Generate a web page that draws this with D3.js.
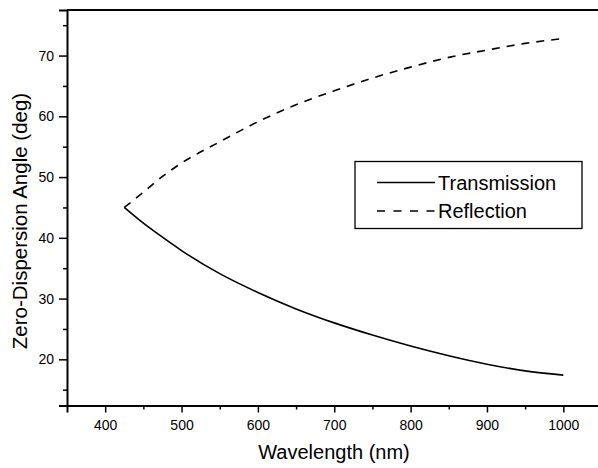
<!DOCTYPE html>
<html>
<head>
<meta charset="utf-8">
<script src="https://cdn.jsdelivr.net/npm/d3@7"></script>
<style>
  body { margin: 0; background: #fff; }
  svg { display: block; font-family: "Liberation Sans", Arial, sans-serif; }
</style>
</head>
<body>
<svg id="chart" width="598" height="468"></svg>
<script>
// wavelength samples (nm)
const wavelength = [425, 450, 475, 500, 550, 600, 650, 700, 750, 800, 850, 900, 950, 1000];
// zero-dispersion angle (deg)
const transmission = [45.0, 42.4, 40.1, 37.9, 34.1, 31.0, 28.3, 26.0, 24.0, 22.2, 20.6, 19.2, 18.1, 17.4];
const reflection = [45.0, 47.5, 50.1, 52.3, 55.8, 59.1, 61.9, 64.2, 66.3, 68.1, 69.7, 70.9, 72.0, 72.8];

const xMajor = [400, 500, 600, 700, 800, 900, 1000];
const xMinor = [450, 550, 650, 750, 850, 950];
const yMajor = [20, 30, 40, 50, 60, 70];
const yMinor = [15, 25, 35, 45, 55, 65, 75];

const legendItems = [
  { name: "Transmission", values: transmission, dash: null },
  { name: "Reflection", values: reflection, dash: "8,8.5" }
];

const svg = d3.select("#chart");

const plotLeft = 67, plotBottom = 405.5, plotTop = 10;

const x = d3.scaleLinear().domain([350, 1050]).range([plotLeft, 601.5]);
const y = d3.scaleLinear().domain([12.4, 77.5]).range([plotBottom, plotTop]);

// top frame
svg.append("line")
  .attr("x1", plotLeft).attr("x2", 598)
  .attr("y1", plotTop).attr("y2", plotTop)
  .attr("stroke", "#000").attr("stroke-width", 2);

// x axis - major
const gx = svg.append("g")
  .attr("transform", `translate(0,${plotBottom})`)
  .call(d3.axisBottom(x).tickValues(xMajor).tickSize(7).tickPadding(8).tickFormat(d3.format("d")));
gx.select(".domain").attr("stroke-width", 2);
gx.selectAll(".tick line").attr("stroke-width", 1.5);
gx.selectAll(".tick text").style("font-size", "14px").attr("fill", "#000");

// x axis - minor
svg.append("g")
  .attr("transform", `translate(0,${plotBottom})`)
  .call(d3.axisBottom(x).tickValues(xMinor).tickSize(4).tickFormat(""))
  .call(g => g.select(".domain").remove())
  .selectAll(".tick line").attr("stroke-width", 1.5);

// y axis - major
const gy = svg.append("g")
  .attr("transform", `translate(${plotLeft},0)`)
  .call(d3.axisLeft(y).tickValues(yMajor).tickSize(8).tickPadding(5).tickFormat(d3.format("d")));
gy.select(".domain").attr("stroke-width", 2);
gy.selectAll(".tick line").attr("stroke-width", 1.5);
gy.selectAll(".tick text").style("font-size", "14px").attr("fill", "#000");

// y axis - minor
svg.append("g")
  .attr("transform", `translate(${plotLeft},0)`)
  .call(d3.axisLeft(y).tickValues(yMinor).tickSize(4).tickFormat(""))
  .call(g => g.select(".domain").remove())
  .selectAll(".tick line").attr("stroke-width", 1.5);

// axis titles
svg.append("text")
  .attr("x", 334).attr("y", 459)
  .attr("text-anchor", "middle")
  .style("font-size", "20px")
  .text("Wavelength (nm)");

svg.append("text")
  .attr("transform", "translate(27,221) rotate(-90)")
  .attr("text-anchor", "middle")
  .style("font-size", "20.5px")
  .text("Zero-Dispersion Angle (deg)");

// curves
const line = d3.line()
  .x((d, i) => x(wavelength[i]))
  .y(d => y(d))
  .curve(d3.curveMonotoneX);

legendItems.forEach(s => {
  svg.append("path")
    .datum(s.values)
    .attr("fill", "none")
    .attr("stroke", "#000")
    .attr("stroke-width", 1.6)
    .attr("stroke-dasharray", s.dash ? "8,7" : null)
    .attr("d", line);
});

// legend
const legend = svg.append("g");
legend.append("rect")
  .attr("x", 355).attr("y", 161.5)
  .attr("width", 227).attr("height", 67)
  .attr("fill", "#fff").attr("stroke", "#000").attr("stroke-width", 1.3);

legendItems.forEach((s, i) => {
  const ly = 182.5 + i * 28.5;
  legend.append("line")
    .attr("x1", 377).attr("x2", 435)
    .attr("y1", ly).attr("y2", ly)
    .attr("stroke", "#000").attr("stroke-width", 1.6)
    .attr("stroke-dasharray", s.dash);
  legend.append("text")
    .attr("x", 438).attr("y", ly + 7)
    .style("font-size", "20px")
    .text(s.name);
});
</script>
</body>
</html>
